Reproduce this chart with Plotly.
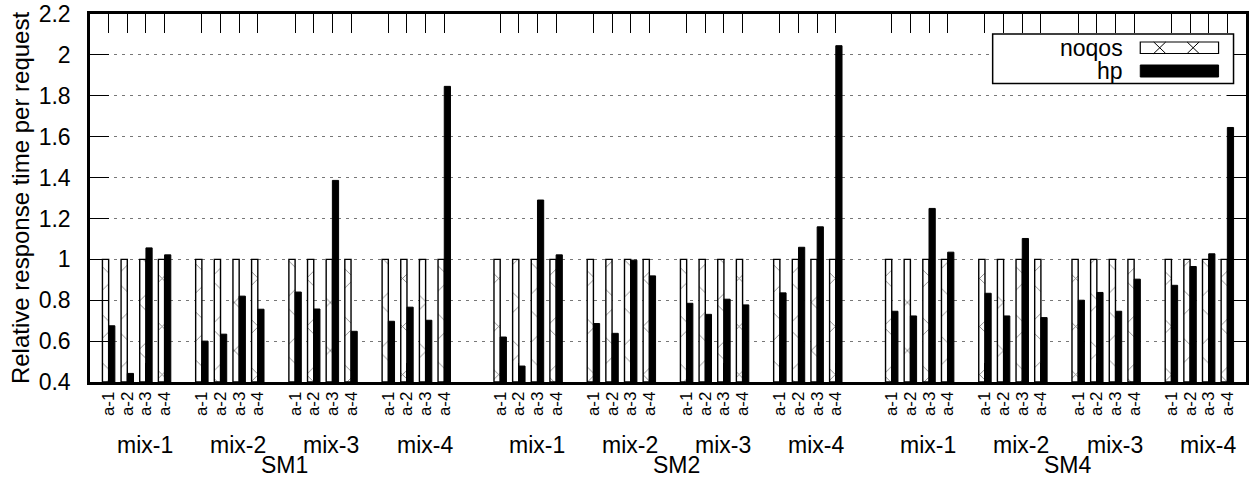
import plotly.graph_objects as go

# Relative response time per request, normalised to the noqos baseline
sms = ["SM1", "SM2", "SM4"]
mixes = ["mix-1", "mix-2", "mix-3", "mix-4"]
apps = ["a-1", "a-2", "a-3", "a-4"]

noqos_sm1 = [1, 1, 1, 1, 1, 1, 1, 1, 1, 1, 1, 1, 1, 1, 1, 1]
noqos_sm2 = [1, 1, 1, 1, 1, 1, 1, 1, 1, 1, 1, 1, 1, 1, 1, 1]
noqos_sm4 = [1, 1, 1, 1, 1, 1, 1, 1, 1, 1, 1, 1, 1, 1, 1, 1]

hp_sm1 = [0.675, 0.442, 1.056, 1.022,
          0.600, 0.634, 0.820, 0.756,
          0.840, 0.757, 1.386, 0.648,
          0.697, 0.766, 0.702, 1.846]
hp_sm2 = [0.620, 0.478, 1.290, 1.022,
          0.686, 0.638, 0.996, 0.919,
          0.785, 0.731, 0.805, 0.777,
          0.836, 1.059, 1.159, 2.045]
hp_sm4 = [0.746, 0.723, 1.249, 1.035,
          0.834, 0.723, 1.102, 0.715,
          0.800, 0.838, 0.746, 0.903,
          0.873, 0.965, 1.027, 1.645]

noqos = noqos_sm1 + noqos_sm2 + noqos_sm4
hp = hp_sm1 + hp_sm2 + hp_sm4

# slot layout: one empty slot between mixes, two between SM blocks
MIX_STEP = len(apps) + 1
SM_STEP = len(mixes) * MIX_STEP + 1
pos, labels = [], []
for s in range(len(sms)):
    for m in range(len(mixes)):
        for a in range(len(apps)):
            pos.append(s * SM_STEP + m * MIX_STEP + a)
            labels.append(apps[a])

FONT = "Liberation Sans, Arial, Helvetica, sans-serif"
W, H = 1250, 478
ML, MR, MT, MB = 90, 1, 14, 96
PW, PH = W - ML - MR, H - MT - MB
BASE = 0.4
LABEL_SHIFT = 0.45


def px(x):
    return (x - ML) / PW


def py(y):
    return (H - MB - y) / PH


fig = go.Figure()
fig.add_trace(go.Bar(
    x=pos, y=[v - BASE for v in noqos], base=BASE, name="noqos",
    marker=dict(color="white", line=dict(color="black", width=1.4),
                pattern=dict(shape="x", size=34, solidity=0.05,
                             fgcolor="black", bgcolor="white")),
    showlegend=False,
))
fig.add_trace(go.Bar(
    x=pos, y=[v - BASE for v in hp], base=BASE, name="hp",
    marker=dict(color="black", line=dict(color="black", width=1)),
    showlegend=False,
))

annotations = []
for s, sm in enumerate(sms):
    for m, mx in enumerate(mixes):
        c = s * SM_STEP + m * MIX_STEP + (len(apps) - 1) / 2 + LABEL_SHIFT
        annotations.append(dict(x=c, xref="x", y=py(445), yref="paper",
                                text=mx, showarrow=False,
                                font=dict(size=23, family=FONT, color="black"),
                                xanchor="center", yanchor="middle"))
    c = s * SM_STEP + (len(mixes) * MIX_STEP - 2) / 2 + LABEL_SHIFT
    annotations.append(dict(x=c, xref="x", y=py(465), yref="paper",
                            text=sm, showarrow=False,
                            font=dict(size=23, family=FONT, color="black"),
                            xanchor="center", yanchor="middle"))

# key box in the upper right corner
for name, yc in (("noqos", 47.5), ("hp", 71)):
    annotations.append(dict(x=px(1128), xref="paper", y=py(yc), yref="paper",
                            text=name, showarrow=False,
                            font=dict(size=23, family=FONT, color="black"),
                            xanchor="right", yanchor="middle"))

shapes = [
    dict(type="rect", xref="paper", yref="paper",
         x0=px(995), x1=px(1236.5), y0=py(83.5), y1=py(34),
         line=dict(color="black", width=1.5), fillcolor="white", layer="above"),
    dict(type="rect", xref="paper", yref="paper",
         x0=px(1143), x1=px(1221.5), y0=py(53.5), y1=py(42),
         line=dict(color="black", width=1.2), fillcolor="white", layer="above"),
    dict(type="rect", xref="paper", yref="paper",
         x0=px(1143), x1=px(1221.5), y0=py(77), y1=py(65),
         line=dict(color="black", width=1), fillcolor="black", layer="above"),
]
for xc in (1162.5, 1196):
    shapes.append(dict(type="line", xref="paper", yref="paper",
                       x0=px(xc - 6), x1=px(xc + 6), y0=py(53.5), y1=py(42),
                       line=dict(color="black", width=1), layer="above"))
    shapes.append(dict(type="line", xref="paper", yref="paper",
                       x0=px(xc - 6), x1=px(xc + 6), y0=py(42), y1=py(53.5),
                       line=dict(color="black", width=1), layer="above"))

fig.update_layout(
    width=W, height=H,
    margin=dict(l=ML, r=MR, t=MT, b=MB, pad=0),
    paper_bgcolor="white", plot_bgcolor="white",
    barmode="group", bargap=1 / 3, bargroupgap=0,
    font=dict(family=FONT, size=23, color="black"),
    annotations=annotations, shapes=shapes,
    xaxis=dict(
        range=[-1, pos[-1] + 1],
        tickmode="array", tickvals=pos, ticktext=labels,
        tickangle=-90, tickfont=dict(size=17, family=FONT, color="black"),
        ticks="inside", ticklen=19, tickwidth=1, tickcolor="black",
        showline=True, linewidth=2.5, linecolor="black", mirror="ticks",
        showgrid=False, zeroline=False,
    ),
    yaxis=dict(
        range=[BASE, 2.2], dtick=0.2, tick0=BASE,
        tickformat="~g",
        tickfont=dict(size=23, family=FONT, color="black"),
        ticks="inside", ticklen=19, tickwidth=1, tickcolor="black",
        showline=True, linewidth=2.5, linecolor="black", mirror="ticks",
        showgrid=True, gridcolor="#777777", gridwidth=1, griddash="3px,5px",
        zeroline=False, ticklabelstandoff=12,
        title=dict(text="Relative response time per request",
                   font=dict(size=24, family=FONT, color="black"), standoff=3),
    ),
)

fig.write_html("out.html")
